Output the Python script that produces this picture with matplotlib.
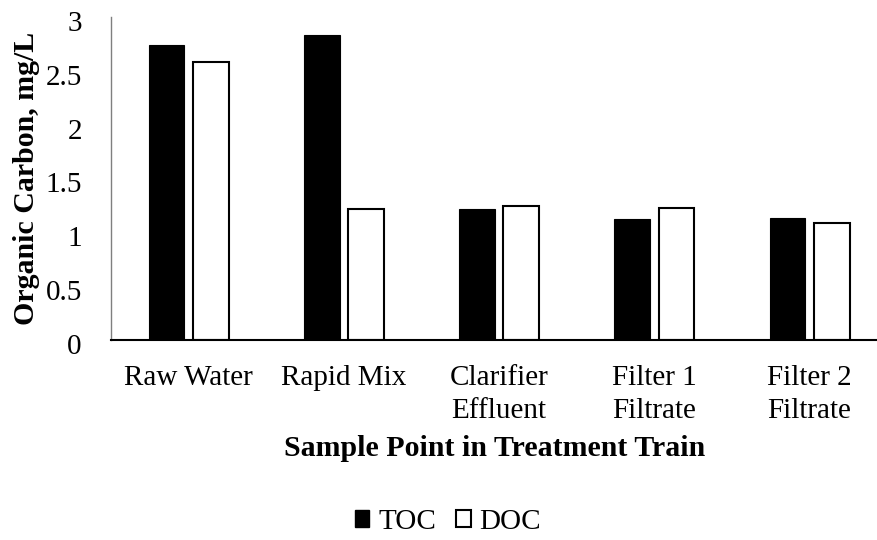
import matplotlib
matplotlib.use("Agg")
import matplotlib.pyplot as plt
import matplotlib.transforms as mtransforms
from matplotlib.patches import Patch
import numpy as np

categories = ["Raw Water", "Rapid Mix", "Clarifier\nEffluent", "Filter 1\nFiltrate", "Filter 2\nFiltrate"]
toc = [2.74, 2.83, 1.22, 1.12, 1.13]
doc = [2.58, 1.22, 1.24, 1.23, 1.09]
yticks = [0, 0.5, 1, 1.5, 2, 2.5, 3]

plt.rcParams['font.family'] = ['Liberation Serif', 'DejaVu Serif']

fig = plt.figure(figsize=(8.78, 5.4), dpi=100)
ax = fig.add_axes([111/878, 1 - 340/540, 1 - 111/878, (340-17)/540])

x = np.arange(len(categories))
w = 0.23
off = 0.143
ax.bar(x - off, toc, w, color='black', edgecolor='black', linewidth=0.8)
ax.bar(x + off, doc, w, color='white', edgecolor='black', linewidth=1.5)

ax.set_xlim(-0.5, -0.5 + 767/155.25)
ax.set_ylim(0, 3)
ax.set_yticks(yticks)
ax.set_yticklabels([f"{t:g}" for t in yticks])
ax.set_xticks(x)
ax.set_xticklabels(categories, linespacing=1.36)
ax.tick_params(axis='both', length=0, labelsize=21)
ax.tick_params(axis='y', pad=21)
ax.tick_params(axis='x', pad=18)

# nudge y tick labels slightly down like the original
shift = mtransforms.ScaledTranslation(0, -4/100, fig.dpi_scale_trans)
for lab in ax.get_yticklabels():
    lab.set_transform(lab.get_transform() + shift)

for s in ['top', 'right']:
    ax.spines[s].set_visible(False)
ax.spines['left'].set_color('#7f7f7f')
ax.spines['left'].set_linewidth(1.0)
ax.spines['bottom'].set_color('black')
ax.spines['bottom'].set_linewidth(1.5)

ax.set_ylabel("Organic Carbon, mg/L", fontsize=21.5, fontweight='bold', labelpad=4)
ax.set_xlabel("Sample Point in Treatment Train", fontsize=21.5, fontweight='bold', labelpad=8)

handles = [Patch(facecolor='black', edgecolor='black', linewidth=1.0),
           Patch(facecolor='white', edgecolor='black', linewidth=1.5)]
fig.legend(handles, ["TOC", "DOC"], loc='center', bbox_to_anchor=(448/878, 1 - 522/540),
           ncol=2, frameon=False, fontsize=21, handlelength=0.5, handleheight=0.5,
           handletextpad=0.3, columnspacing=0.7, borderpad=0)

fig.savefig("out.png", dpi=100)
